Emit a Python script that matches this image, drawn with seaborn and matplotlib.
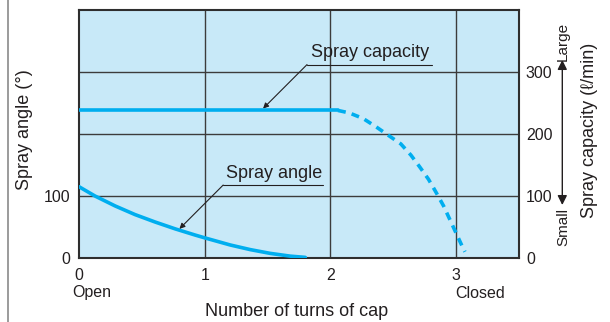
import matplotlib
matplotlib.use("Agg")
import matplotlib.pyplot as plt
import matplotlib.transforms as mtransforms
from matplotlib.lines import Line2D
import seaborn as sns
import pandas as pd

# Spray angle versus number of turns of the cap
angle_turns = [0, 0.127, 0.287, 0.446, 0.606, 0.765, 0.924, 1.0, 1.203,
               1.363, 1.52, 1.68, 1.80]
angle_deg = [115, 100, 84, 70, 58, 47, 37, 32.5, 21, 13.5, 7.5, 3, 1]

# Spray capacity: measured (solid) and estimated (dashed) portions
cap_solid_turns = [0, 2.06]
cap_solid = [238, 238]
cap_dash_turns = [2.06, 2.15, 2.26, 2.36, 2.46, 2.56, 2.64, 2.71, 2.78, 2.84,
                  2.90, 2.95, 3.00, 3.05, 3.07]
cap_dash = [238, 234, 225, 212, 198, 184, 166, 147, 127, 106, 84, 62, 40, 18, 10]

x_ticks = [0, 1, 2, 3]
left_ticks = [0, 100]
right_ticks = [0, 100, 200, 300]
grid_x = [1, 2, 3]
grid_y = [100, 200, 300]

sns.set_theme(style="white")
plt.rcParams["font.family"] = ["Liberation Sans", "DejaVu Sans"]

BLUE = "#00AEEF"
BG = "#C8E9F8"
INK = "#231F20"
GRID = "#3C3C3C"

W, H = 610, 322
fig = plt.figure(figsize=(W / 100, H / 100), dpi=100)
fig.patch.set_facecolor("white")
ax = fig.add_axes([79 / W, 1 - 258 / H, 440 / W, 248 / H])
ax.set_facecolor(BG)
ax.set_xlim(0, 3.5)
ax.set_ylim(0, 400)

for gx in grid_x:
    ax.axvline(gx, color=GRID, lw=1.0, zorder=1)
for gy in grid_y:
    ax.axhline(gy, color=GRID, lw=1.0, zorder=1)

angle_df = pd.DataFrame({"turns": angle_turns, "angle": angle_deg})
sns.lineplot(data=angle_df, x="turns", y="angle", ax=ax, color=BLUE,
             linewidth=2.6, sort=False, zorder=3)

ax.set_xticks(x_ticks)
ax.set_xticklabels([str(v) for v in x_ticks])
ax.set_yticks(left_ticks)
ax.set_yticklabels([str(v) for v in left_ticks])
ax.tick_params(axis="x", length=0, pad=7, labelsize=11.5, labelcolor=INK)
ax.tick_params(axis="y", length=0, pad=6, labelsize=11.5, labelcolor=INK)
ax.set_xlabel("")
ax.set_ylabel("")
for sp in ax.spines.values():
    sp.set_color("#2E2E2E")
    sp.set_linewidth(1.5)

ax2 = ax.twinx()
ax2.set_ylim(0, 400)
ax2.patch.set_visible(False)
solid_df = pd.DataFrame({"turns": cap_solid_turns, "capacity": cap_solid})
dash_df = pd.DataFrame({"turns": cap_dash_turns, "capacity": cap_dash})
sns.lineplot(data=solid_df, x="turns", y="capacity", ax=ax2, color=BLUE,
             linewidth=2.6, sort=False)
sns.lineplot(data=dash_df, x="turns", y="capacity", ax=ax2, color=BLUE,
             linewidth=2.6, sort=False, linestyle=(0, (2.2, 1.7)))
ax2.set_yticks(right_ticks)
ax2.set_yticklabels([str(v) for v in right_ticks])
ax2.tick_params(axis="y", length=0, pad=5, labelsize=11.5, labelcolor=INK)
ax2.set_ylabel("")
for sp in ax2.spines.values():
    sp.set_visible(False)

# Callout labels with underline and leader arrow
arrow_kw = dict(arrowstyle="-|>", color=INK, lw=0.8, mutation_scale=8,
                shrinkA=0, shrinkB=0)
ax.text(2.315, 324, "Spray capacity", ha="center", va="baseline",
        fontsize=13, color=INK, zorder=5)
ax.plot([1.814, 2.81], [312, 312], color=INK, lw=0.8, zorder=5)
ax.annotate("", xy=(1.464, 241), xytext=(1.814, 312), arrowprops=arrow_kw,
            zorder=5)

ax.text(1.55, 128.5, "Spray angle", ha="center", va="baseline",
        fontsize=13, color=INK, zorder=5)
ax.plot([1.147, 1.944], [117.7, 117.7], color=INK, lw=0.8, zorder=5)
ax.annotate("", xy=(0.799, 47), xytext=(1.147, 117.7), arrowprops=arrow_kw,
            zorder=5)

# End labels below the turn axis
bt = mtransforms.blended_transform_factory(ax.transData, fig.transFigure)
ax.text(0.1, 1 - 293 / H, "Open", transform=bt, ha="center", va="center",
        fontsize=11.5, color=INK)
ax.text(3.19, 1 - 293 / H, "Closed", transform=bt, ha="center", va="center",
        fontsize=11.5, color=INK)

fig.text(297 / W, 1 - 312 / H, "Number of turns of cap", ha="center",
         va="center", fontsize=13, color=INK)
fig.text(25 / W, 1 - 130 / H, "Spray angle (°)", ha="center", va="center",
         rotation=90, fontsize=13, color=INK)
fig.text(590 / W, 1 - 130.5 / H, "Spray capacity (ℓ/min)", ha="center",
         va="center", rotation=90, fontsize=13, color=INK)

# Small / Large scale indicator
fig.text(563 / W, 1 - 41 / H, "Large", ha="center", va="center",
         rotation=90, fontsize=11, color=INK)
fig.text(563 / W, 1 - 227 / H, "Small", ha="center", va="center",
         rotation=90, fontsize=11, color=INK)
ax.annotate("", xy=(562.3, H - 60), xytext=(562.3, H - 205),
            xycoords="figure pixels", textcoords="figure pixels",
            arrowprops=dict(arrowstyle="<|-|>", color=INK, lw=1.0,
                            mutation_scale=14, shrinkA=0, shrinkB=0),
            annotation_clip=False)

# Page margin rule on the left
fig.add_artist(Line2D([8 / W, 8 / W], [0, 1], transform=fig.transFigure,
                      color="#8A8A8A", lw=1.2))

fig.savefig("out.png", dpi=100)
